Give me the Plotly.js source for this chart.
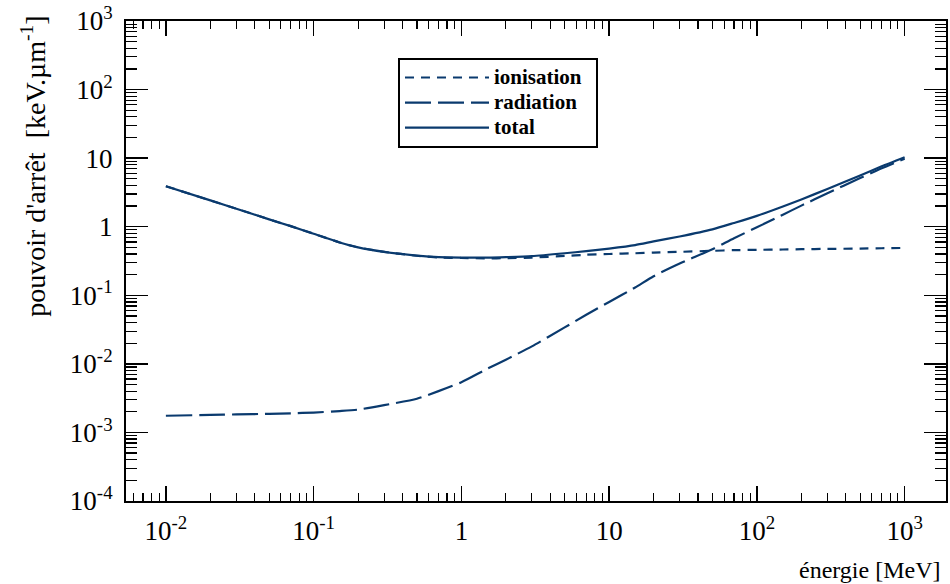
<!DOCTYPE html>
<html>
<head>
<meta charset="utf-8">
<script src="https://cdn.plot.ly/plotly-3.0.1.min.js"></script>
<style>html,body{margin:0;padding:0;background:#fff;}#chart{width:950px;height:584px;}</style>
</head>
<body>
<div id="chart"></div>
<script>
// Energy [MeV]
const energie = [0.01, 0.02, 0.03, 0.05, 0.07, 0.1, 0.15, 0.2, 0.3, 0.5, 0.7, 1, 1.5, 2, 3, 5, 7, 10, 15, 20, 30, 50, 70, 100, 150, 200, 300, 500, 700, 1000];
// Stopping powers [keV/um]
const ionisation = [3.9, 2.42, 1.83, 1.28, 1.02, 0.79, 0.59, 0.50, 0.43, 0.377, 0.356, 0.35, 0.345, 0.348, 0.355, 0.375, 0.39, 0.40, 0.41, 0.42, 0.43, 0.445, 0.455, 0.46, 0.465, 0.47, 0.475, 0.48, 0.485, 0.49];
const radiation = [0.00175, 0.0018, 0.00183, 0.00187, 0.0019, 0.00195, 0.00205, 0.00215, 0.0025, 0.0031, 0.004, 0.0054, 0.0085, 0.0115, 0.018, 0.034, 0.052, 0.08, 0.13, 0.19, 0.29, 0.47, 0.68, 0.98, 1.5, 2.03, 3.07, 5.12, 7.12, 9.8];
const total = [3.9, 2.42, 1.83, 1.28, 1.02, 0.79, 0.59, 0.50, 0.43, 0.38, 0.36, 0.355, 0.354, 0.36, 0.373, 0.41, 0.44, 0.48, 0.54, 0.61, 0.72, 0.915, 1.135, 1.44, 1.97, 2.5, 3.55, 5.6, 7.6, 10.3];

const seriesNames = ['ionisation', 'radiation', 'total'];

const xTickVals = [0.01, 0.1, 1, 10, 100, 1000];
const xTickText = ['10<sup>-2</sup>', '10<sup>-1</sup>', '1', '10', '10<sup>2</sup>', '10<sup>3</sup>'];
const yTickVals = [1e-4, 1e-3, 1e-2, 1e-1, 1, 10, 100, 1000];
const yTickText = ['10<sup>-4</sup>', '10<sup>-3</sup>', '10<sup>-2</sup>', '10<sup>-1</sup>', '1', '10', '10<sup>2</sup>', '10<sup>3</sup>'];

const xTitle = 'énergie [MeV]';
const yTitle = 'pouvoir d\'arrêt  [keV.µm<sup>-1</sup>]';

function minorVals(lo, hi) {
  const out = [];
  for (let e = lo; e <= hi; e++) {
    for (let m = 2; m <= 9; m++) out.push(m * Math.pow(10, e));
  }
  return out;
}

const color = '#0a3a6e';
const serif = 'Liberation Serif, Times New Roman, serif';
const legName = (s) => '<span style="font-size:21px">' + s + '</span>&nbsp;&nbsp;';

const traces = [
  {x: energie, y: ionisation, name: legName(seriesNames[0]), mode: 'lines',
   line: {color: color, width: 2.2, dash: '9px,7px', shape: 'spline', smoothing: 0.6}},
  {x: energie, y: radiation, name: legName(seriesNames[1]), mode: 'lines',
   line: {color: color, width: 2.2, dash: '26px,7px', shape: 'spline', smoothing: 0.6}},
  {x: energie, y: total, name: legName(seriesNames[2]), mode: 'lines',
   line: {color: color, width: 2.2, shape: 'spline', smoothing: 0.6}}
];

const axisCommon = {
  showgrid: false, zeroline: false,
  showline: true, linecolor: 'black', linewidth: 2, mirror: 'allticks',
  ticks: 'inside', tickcolor: 'black', tickwidth: 1.3,
  tickmode: 'array',
  tickfont: {family: serif, size: 27, color: 'black'}
};

const layout = {
  width: 950, height: 584,
  margin: {l: 126, r: 4, t: 21, b: 83},
  paper_bgcolor: 'white', plot_bgcolor: 'white',
  showlegend: true,
  legend: {
    x: 0.3317, y: 0.923, xanchor: 'left', yanchor: 'top',
    bgcolor: 'white', bordercolor: 'black', borderwidth: 2,
    font: {family: serif, size: 17, color: 'black', weight: 'bold'},
    itemwidth: 84, traceorder: 'normal'
  },
  xaxis: Object.assign({}, axisCommon, {
    type: 'log', range: [-2.27, 3.28],
    tickvals: xTickVals, ticktext: xTickText, ticklen: 15, ticklabelstandoff: 5,
    minor: {tickmode: 'array', tickvals: minorVals(-3, 2), ticks: 'inside', ticklen: 8, tickwidth: 1.2, tickcolor: 'black', showgrid: false}
  }),
  yaxis: Object.assign({}, axisCommon, {
    type: 'log', range: [-4, 3],
    tickvals: yTickVals, ticktext: yTickText, ticklen: 22, ticklabelstandoff: 6,
    minor: {tickmode: 'array', tickvals: minorVals(-4, 2), ticks: 'inside', ticklen: 11, tickwidth: 1.2, tickcolor: 'black', showgrid: false}
  }),
  annotations: [
    {text: xTitle, xref: 'paper', yref: 'paper', x: 0.9963, y: -0.144, xanchor: 'right', yanchor: 'middle',
     showarrow: false, font: {family: serif, size: 24, color: 'black'}},
    {text: yTitle, xref: 'paper', yref: 'paper', x: -0.113, y: 0.697, xanchor: 'center', yanchor: 'middle',
     textangle: -90, showarrow: false, font: {family: serif, size: 28, color: 'black'}}
  ]
};

Plotly.newPlot('chart', traces, layout, {displayModeBar: false, staticPlot: true});
</script>
</body>
</html>
